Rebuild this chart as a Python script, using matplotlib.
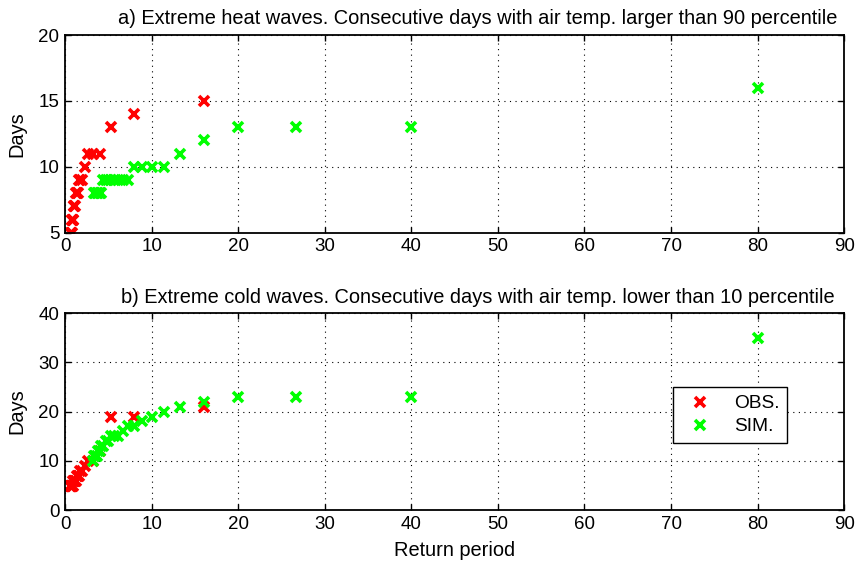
import matplotlib
matplotlib.use("Agg")
from matplotlib import pyplot as plt

plt.rcParams["font.family"] = ["Liberation Sans", "DejaVu Sans"]

# return periods (years) and event lengths (days)
heat_obs_period = [16, 8, 5.33, 4, 3.2, 2.67, 2.29, 2, 1.78, 1.6, 1.45, 1.33,
                   1.23, 1.14, 1.07, 1, 0.94, 0.89, 0.84, 0.8, 0.76, 0.73, 0.7]
heat_obs_days = [15, 14, 13, 11, 11, 11, 10, 9, 9, 9, 8, 8,
                 8, 7, 7, 7, 6, 6, 6, 6, 5, 5, 5]

heat_sim_period = [80, 40, 26.67, 20, 16, 13.33, 11.43, 10, 8.89, 8, 7.27, 6.67,
                   6.15, 5.71, 5.33, 5, 4.71, 4.44, 4.21, 4, 3.81, 3.64, 3.48, 3.33]
heat_sim_days = [16, 13, 13, 13, 12, 11, 10, 10, 10, 10, 9, 9,
                 9, 9, 9, 9, 9, 9, 8, 8, 8, 8, 8, 8]

cold_obs_period = [16, 8, 5.33, 4, 3.2, 2.67, 2.29, 2, 1.78, 1.6, 1.45, 1.33,
                   1.23, 1.14, 1.07, 1, 0.94, 0.89, 0.84, 0.8, 0.76, 0.73, 0.7, 0.67, 0.64, 0.62]
cold_obs_days = [21, 19, 19, 12, 10, 10, 9, 8, 8, 7, 7, 7,
                 6, 6, 6, 6, 6, 5, 5, 5, 5, 5, 5, 5, 5, 5]

cold_sim_period = [80, 40, 26.67, 20, 16, 13.33, 11.43, 10, 8.89, 8, 7.27, 6.67,
                   6.15, 5.71, 5.33, 5, 4.71, 4.44, 4.21, 4, 3.81, 3.64, 3.48, 3.33, 3.2]
cold_sim_days = [35, 23, 23, 23, 22, 21, 20, 19, 18, 17, 17, 16,
                 15, 15, 15, 14, 14, 13, 13, 12, 12, 11, 11, 11, 10]

titles = ["a) Extreme heat waves. Consecutive days with air temp. larger than 90 percentile",
          "b) Extreme cold waves. Consecutive days with air temp. lower than 10 percentile"]

fig = plt.figure(figsize=(8.61, 5.65), dpi=100)
ax1 = fig.add_axes([0.0755, 0.588, 0.905, 0.350])
ax2 = fig.add_axes([0.0755, 0.097, 0.905, 0.349])

mk = dict(linestyle="none", marker="x", markersize=7.5, markeredgewidth=2.6)

ax1.plot(heat_obs_period, heat_obs_days, color="#ff0000", **mk)
ax1.plot(heat_sim_period, heat_sim_days, color="#00ff00", **mk)
ax2.plot(cold_obs_period, cold_obs_days, color="#ff0000", label="OBS.", **mk)
ax2.plot(cold_sim_period, cold_sim_days, color="#00ff00", label="SIM.", **mk)

ax1.set_ylim(5, 20)
ax1.set_yticks([5, 10, 15, 20])
ax2.set_ylim(0, 40)
ax2.set_yticks([0, 10, 20, 30, 40])

for ax in (ax1, ax2):
    ax.set_xlim(0, 90)
    ax.set_xticks(range(0, 91, 10))
    ax.grid(True, linestyle=(0, (1, 4)), color="black", linewidth=0.8)
    ax.tick_params(direction="in", top=True, right=True, length=4, labelsize=13.5, width=1, pad=4)
    ax.set_ylabel("Days", fontsize=14.4)
    ax.yaxis.set_label_coords(-0.050, 0.5)
    for s in ax.spines.values():
        s.set_linewidth(1.3)

fig.text(0.555, 0.968, titles[0], ha="center", va="center", fontsize=14.4)
fig.text(0.555, 0.474, titles[1], ha="center", va="center", fontsize=14.4)
ax2.set_xlabel("Return period", fontsize=14.4)
ax2.xaxis.set_label_coords(0.5, -0.155)

leg = ax2.legend(loc="upper right", bbox_to_anchor=(0.927, 0.624), fontsize=13.8,
                 fancybox=False, edgecolor="black", framealpha=1, borderpad=0.4,
                 handletextpad=0.8, borderaxespad=0, labelspacing=0.3)
leg.get_frame().set_linewidth(1.0)

fig.savefig("out.png", dpi=100)
